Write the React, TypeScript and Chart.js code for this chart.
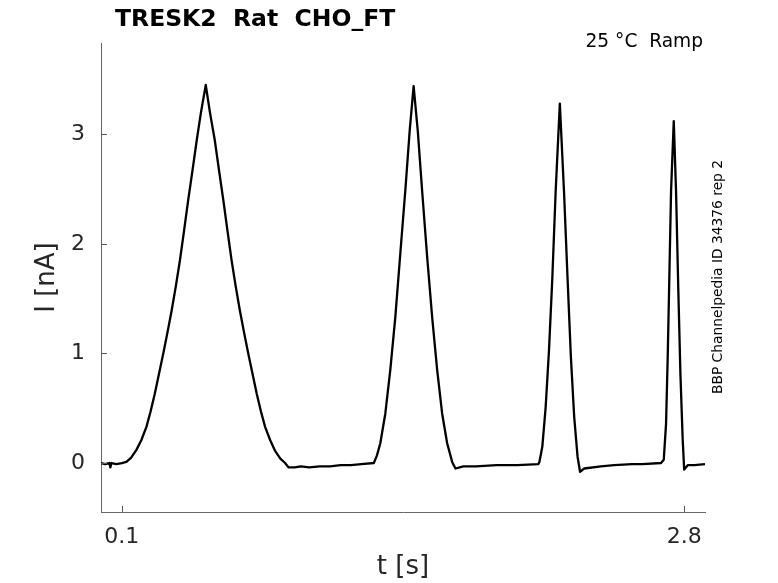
import { Chart, registerables } from "chart.js";
import { useEffect, useRef } from "react";

// sweep (time in s, current in nA)
const sweepTime = [
  0.0, 0.02, 0.04, 0.045, 0.05, 0.074, 0.1, 0.122, 0.145, 0.17, 0.194, 0.218,
  0.238, 0.258, 0.278, 0.299, 0.319, 0.339, 0.359, 0.379, 0.398, 0.418, 0.44,
  0.46, 0.48, 0.503, 0.523, 0.546, 0.566, 0.588, 0.608, 0.627, 0.647, 0.667,
  0.687, 0.707, 0.728, 0.748, 0.768, 0.788, 0.812, 0.836, 0.861, 0.884, 0.9,
  0.93, 0.96, 1.0, 1.05, 1.1, 1.15, 1.2, 1.25, 1.31, 1.325, 1.341, 1.365,
  1.389, 1.413, 1.437, 1.462, 1.482, 1.501, 1.521, 1.542, 1.566, 1.59, 1.614,
  1.638, 1.662, 1.686, 1.702, 1.74, 1.8, 1.9, 2.0, 2.1, 2.105, 2.119, 2.135,
  2.151, 2.167, 2.183, 2.203, 2.223, 2.24, 2.256, 2.272, 2.288, 2.3, 2.32, 2.4,
  2.464, 2.55, 2.6, 2.689, 2.702, 2.713, 2.721, 2.729, 2.737, 2.75, 2.761,
  2.772, 2.782, 2.793, 2.8, 2.817, 2.85, 2.9,
];
const sweepCurrent = [
  0.0, -0.01, 0.0, -0.04, 0.0, -0.01, 0.0, 0.01, 0.05, 0.12, 0.21, 0.33,
  0.47, 0.63, 0.81, 1.0, 1.19, 1.39, 1.61, 1.85, 2.11, 2.39, 2.68,
  2.95, 3.2, 3.45, 3.2, 2.95, 2.68, 2.39, 2.11, 1.85, 1.61, 1.39,
  1.19, 1.0, 0.81, 0.63, 0.47, 0.33, 0.21, 0.11, 0.04, 0.0, -0.04,
  -0.04, -0.03, -0.04, -0.03, -0.03, -0.02, -0.02, -0.01, 0.0, 0.07, 0.18, 0.45,
  0.85, 1.33, 1.91, 2.51, 3.03, 3.44, 3.03, 2.48, 1.88, 1.33, 0.85,
  0.45, 0.18, 0.01, -0.05, -0.03, -0.03, -0.02, -0.02, -0.01, 0.01, 0.15, 0.51,
  1.03, 1.69, 2.48, 3.28, 2.48, 1.69, 0.97, 0.42, 0.06, -0.08, -0.05, -0.03,
  -0.02, -0.01, -0.01, 0.0, 0.03, 0.36, 0.97, 1.72, 2.48, 3.12, 2.48,
  1.57, 0.81, 0.21, -0.06, -0.02, -0.02, -0.01,
];
const xTickValues = [0.1, 2.8];
const yTickValues = [0, 1, 2, 3];

const titleText = "TRESK2  Rat  CHO_FT";
const conditionText = "25 \u00b0C  Ramp";
const sideText = "BBP Channelpedia ID 34376 rep 2";

const FONT = "'DejaVu Sans', sans-serif";
const AXIS_GREY = "#262626";

const decorations = {
  id: "decorations",
  afterDraw(chart: Chart) {
    const ctx = chart.ctx;
    const { left, bottom } = chart.chartArea;
    const xs = chart.scales.x;
    const ys = chart.scales.y;
    ctx.save();

    // inward tick marks
    ctx.strokeStyle = "#555";
    ctx.lineWidth = 1;
    ctx.beginPath();
    xs.ticks.forEach((t) => {
      const px = Math.round(xs.getPixelForValue(t.value)) + 0.5;
      ctx.moveTo(px, bottom);
      ctx.lineTo(px, bottom - 6);
    });
    ys.ticks.forEach((t) => {
      const py = Math.round(ys.getPixelForValue(t.value)) + 0.5;
      ctx.moveTo(left, py);
      ctx.lineTo(left + 6, py);
    });
    ctx.stroke();

    // titles
    ctx.fillStyle = "#000";
    ctx.textBaseline = "alphabetic";
    ctx.textAlign = "left";
    ctx.font = `bold 23.5px ${FONT}`;
    ctx.fillText(titleText, 115, 26);

    ctx.textAlign = "right";
    ctx.font = `18.6px ${FONT}`;
    ctx.fillText(conditionText, 703, 47);

    ctx.save();
    ctx.translate(721.5, 277);
    ctx.rotate(-Math.PI / 2);
    ctx.textAlign = "center";
    ctx.font = `13.8px ${FONT}`;
    ctx.fillText(sideText, 0, 0);
    ctx.restore();

    ctx.restore();
  },
};

const App = () => {
  const chartRef = useRef<HTMLCanvasElement>(null);

  useEffect(() => {
    Chart.register(...registerables);
  }, []);

  useEffect(() => {
    let chart: Chart | null = null;
    if (chartRef.current) {
      const ctx = chartRef.current.getContext("2d") as CanvasRenderingContext2D;
      chart = new Chart(ctx, {
        type: "line",
        data: {
          datasets: [
            {
              label: "I",
              data: sweepTime.map((t, i) => ({ x: t, y: sweepCurrent[i] })),
              borderColor: "#000",
              borderWidth: 2.3,
              borderJoinStyle: "round",
              pointRadius: 0,
              tension: 0,
              fill: false,
            },
          ],
        },
        options: {
          animation: false,
          responsive: false,
          layout: { padding: { top: 43, right: 73, left: 0, bottom: 0 } },
          plugins: {
            legend: { display: false },
            tooltip: { enabled: false },
            title: { display: false },
          },
          scales: {
            x: {
              type: "linear",
              min: 0,
              max: 2.9,
              afterFit: (s: any) => {
                s.height = 71;
              },
              afterBuildTicks: (s: any) => {
                s.ticks = xTickValues.map((v) => ({ value: v }));
              },
              grid: { display: false, drawTicks: false },
              border: { display: true, color: "#666", width: 1 },
              ticks: {
                color: AXIS_GREY,
                font: { family: FONT, size: 22 },
                padding: 12,
                maxRotation: 0,
                callback: (v: any) => String(v),
              },
              title: {
                display: true,
                text: "t [s]",
                color: AXIS_GREY,
                font: { family: FONT, size: 26 },
                padding: { top: 0, bottom: 0 },
              },
            },
            y: {
              type: "linear",
              min: -0.447,
              max: 3.833,
              afterFit: (s: any) => {
                s.width = 101;
              },
              afterBuildTicks: (s: any) => {
                s.ticks = yTickValues.map((v) => ({ value: v }));
              },
              grid: { display: false, drawTicks: false },
              border: { display: true, color: "#666", width: 1 },
              ticks: {
                color: AXIS_GREY,
                font: { family: FONT, size: 22 },
                padding: 16,
                callback: (v: any) => String(v),
              },
              title: {
                display: true,
                text: "I [nA]",
                color: AXIS_GREY,
                font: { family: FONT, size: 26 },
                padding: { top: 32, bottom: 0 },
              },
            },
          },
        },
        plugins: [decorations],
      });
    }
    return () => {
      if (chart) {
        chart.destroy();
      }
    };
  }, []);

  return (
    <div style={{ position: "fixed", left: 0, top: 0, width: 778, height: 583, background: "#fff" }}>
      <canvas ref={chartRef} width={778} height={583} />
    </div>
  );
};

export default App;
